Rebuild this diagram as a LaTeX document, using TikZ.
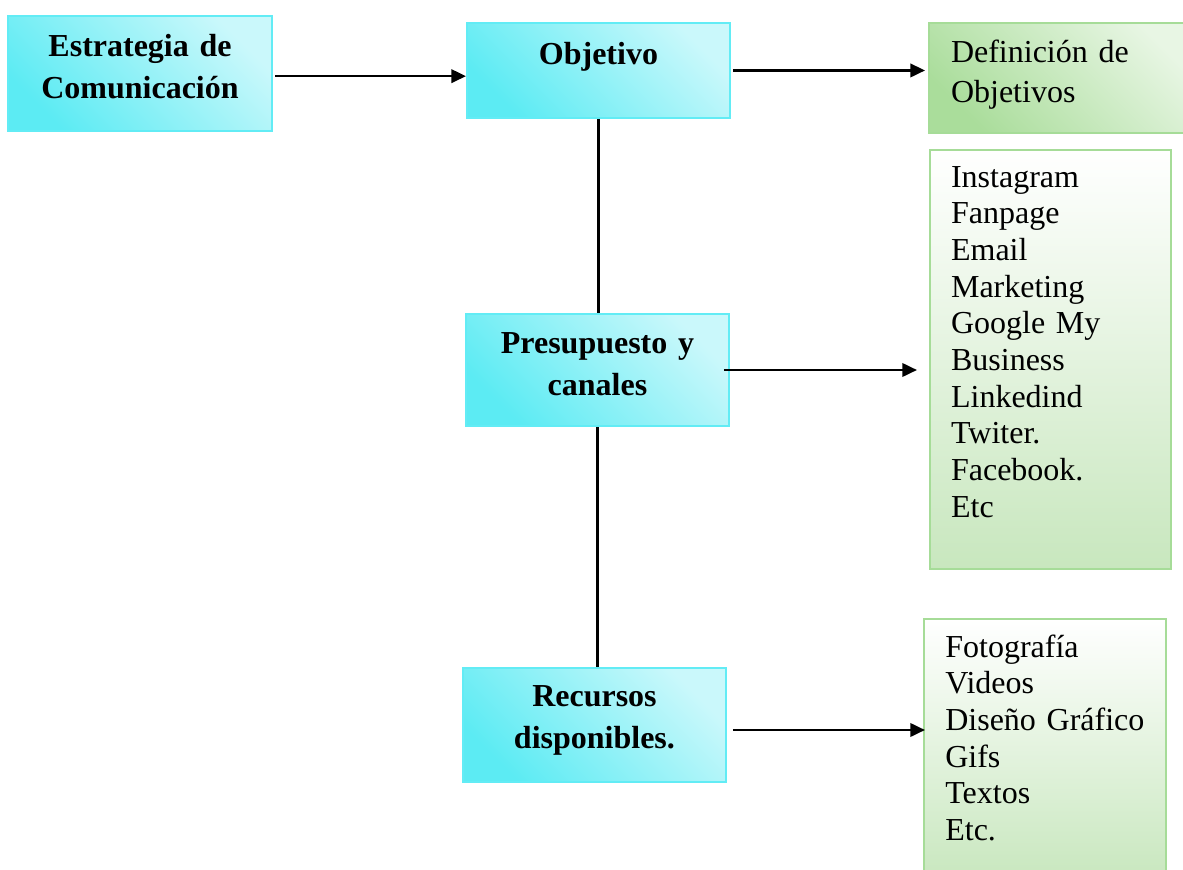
\documentclass[tikz,border=0pt]{standalone}
\usepackage{fontspec}
\setmainfont{Liberation Serif}
\usetikzlibrary{positioning}
\usetikzlibrary{arrows.meta}

\definecolor{cianoscuro}{RGB}{92,235,243}
\definecolor{cianclaro}{RGB}{202,248,251}
\definecolor{cianborde}{RGB}{98,236,245}
\definecolor{verdeoscuro}{RGB}{200,231,190}
\definecolor{verdediag}{RGB}{170,221,155}
\definecolor{verdeclaro}{RGB}{232,246,228}
\definecolor{verdeborde}{RGB}{166,220,152}

\begin{document}
\begin{tikzpicture}[x=0.375pt, y=-0.375pt,
    caja/.style={draw=cianborde, line width=0.75pt, top color=cianoscuro, bottom color=cianclaro, shading angle=135,
      anchor=north west, inner xsep=2pt, inner ysep=0pt, align=center, text width=94.6pt,
      font=\fontsize{12}{15.6}\selectfont\bfseries},
    lista/.style={draw=verdeborde, line width=0.75pt, top color=white, bottom color=verdeoscuro,
      anchor=north west, inner xsep=8pt, inner ysep=0pt, align=left,
      font=\fontsize{12}{13.76}\selectfont},
    flecha/.style={-{Triangle[length=5.5pt,width=5pt]}, line width=1pt},
    linea/.style={line width=1pt}]
    \useasboundingbox (0,0) rectangle (1183,870);

    % Nodos
    \node[caja, text width=95pt, text height=15.26pt, text depth=27.86pt] (estr) at (7,15) {Estrategia de\\Comunicación};
    \node[caja, text height=15.6pt, text depth=20pt] (obj) at (466,22) {Objetivo};
    \node[caja, text height=14.9pt, text depth=27.1pt] (pres) at (465,313) {Presupuesto y\\canales};
    \node[caja, text height=14.5pt, text depth=28.2pt] (rec) at (462,667) {Recursos\\disponibles.};

    \node[lista, top color=verdediag, bottom color=verdeclaro, shading angle=135, inner xsep=8.25pt,
      text width=83.5pt, text height=14.9pt, text depth=26.4pt, font=\fontsize{12}{15}\selectfont]
      (def) at (928,22) {Definición de\\Objetivos};
    \node[lista, inner xsep=7.9pt, text width=74.6pt, text height=13.9pt, text depth=143.25pt] (can) at (929,149)
      {Instagram\\Fanpage\\Email\\Marketing\\Google My\\Business\\Linkedind\\Twiter.\\Facebook.\\Etc};
    \node[lista, text width=74.75pt, text height=14.25pt, text depth=84pt] (lst) at (923,618)
      {Fotografía\\Videos\\Diseño Gráfico\\Gifs\\Textos\\Etc.};

    % Aristas
    \draw[flecha, shorten <=0.75pt] ([yshift=-1pt]estr.east) -- ([yshift=-1pt]estr.east -| obj.west);
    \draw[flecha, shorten <=0.75pt, shorten >=1.1pt] (obj.east) -- (obj.east -| def.west);
    \draw[flecha, shorten <=-2.25pt, shorten >=4.5pt] (pres.east) -- (pres.east -| can.west);
    \draw[flecha, shorten <=2.25pt, shorten >=-0.75pt] ([yshift=-1.9pt]rec.east) -- ([yshift=-1.9pt]rec.east -| lst.west);
    \draw[linea] (obj.south) -- (obj.south |- pres.north);
    \draw[linea] (pres.south) -- (pres.south |- rec.north);
\end{tikzpicture}
\end{document}
